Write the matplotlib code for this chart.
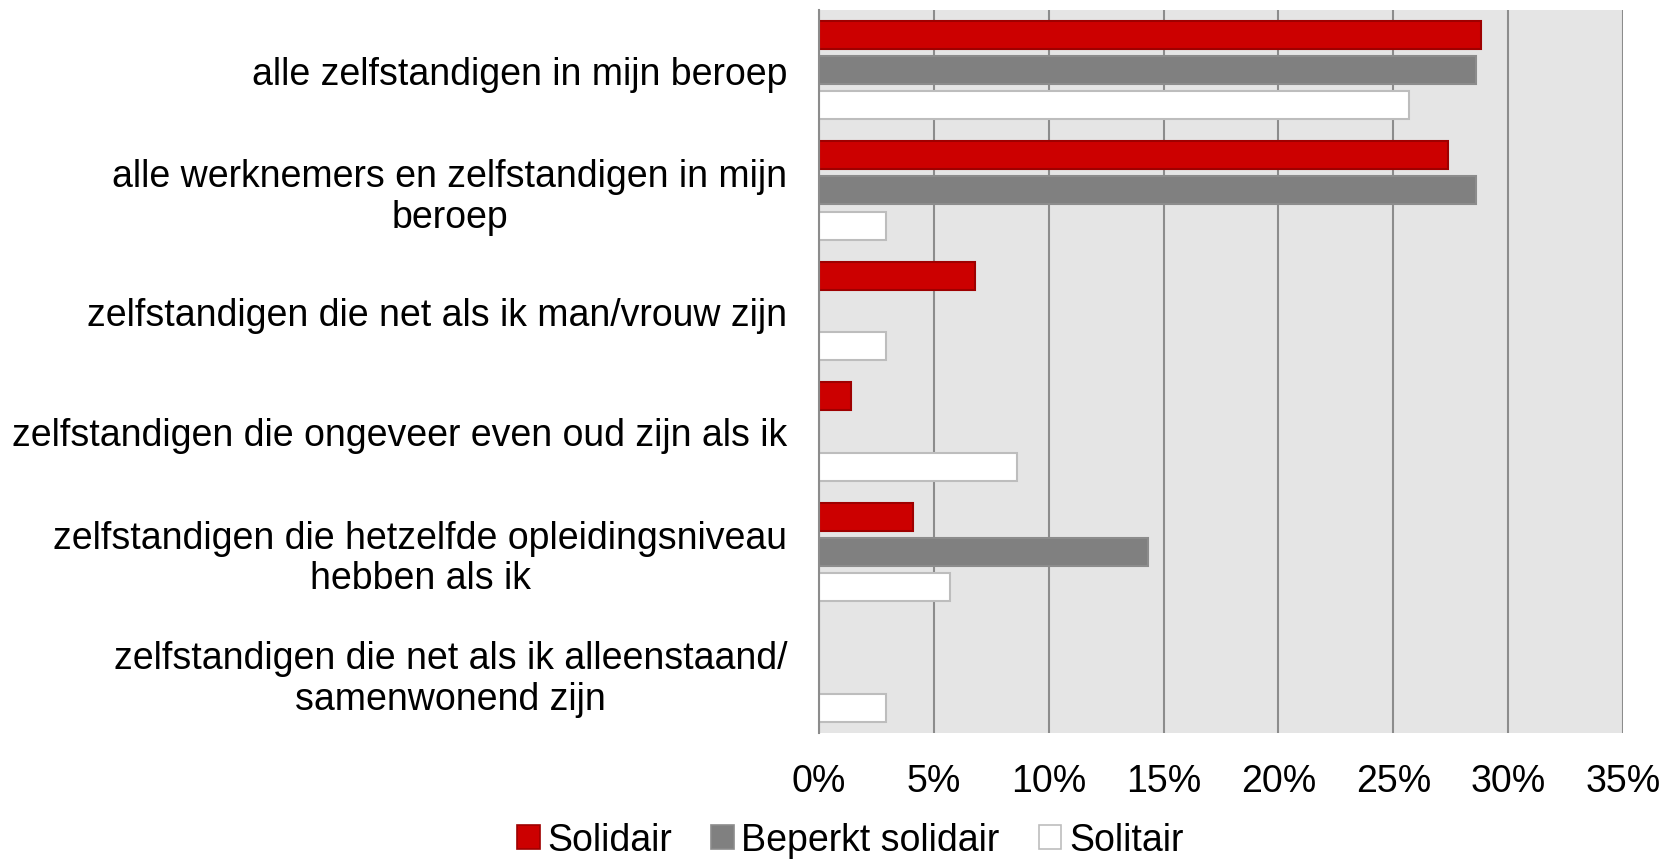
import matplotlib
matplotlib.use("Agg")
import matplotlib.pyplot as plt
import numpy as np
from matplotlib.ticker import PercentFormatter
from matplotlib.patches import Patch

plt.rcParams['font.family'] = ['Liberation Sans', 'DejaVu Sans']

categories = [
    "alle zelfstandigen in mijn beroep",
    "alle werknemers en zelfstandigen in mijn\nberoep",
    "zelfstandigen die net als ik man/vrouw zijn",
    "zelfstandigen die ongeveer even oud zijn als ik",
    "zelfstandigen die hetzelfde opleidingsniveau\nhebben als ik",
    "zelfstandigen die net als ik alleenstaand/\nsamenwonend zijn",
]
series_names = ["Solidair", "Beperkt solidair", "Solitair"]
solidair = [28.8, 27.4, 6.8, 1.4, 4.1, 0.0]
beperkt = [28.6, 28.6, 0.0, 0.0, 14.3, 0.0]
solitair = [25.7, 2.9, 2.9, 8.6, 5.7, 2.9]
x_ticks = [0, 5, 10, 15, 20, 25, 30, 35]

fills = ["#CC0000", "#808080", "#FFFFFF"]
edges = ["#9E0000", "#8C8C8C", "#BDBDBD"]

fig = plt.figure(figsize=(16.77, 8.62), dpi=100)
ax = fig.add_axes([0.4884, 0.149, 0.4794, 0.8386])
ax.set_facecolor("#E5E5E5")

y = np.arange(len(categories))
step = 0.293
h = 0.232
for i, (vals, fc, ec) in enumerate(zip([solidair, beperkt, solitair], fills, edges)):
    lw = [1.5 if v > 0 else 0 for v in vals]
    ax.barh(y + (i - 1) * step, vals, height=h, color=fc, edgecolor=ec,
            linewidth=lw, zorder=3, label=series_names[i])

ax.set_xlim(0, 35)
ax.set_ylim(len(categories) - 0.5, -0.5)
ax.set_xticks(x_ticks)
ax.xaxis.set_major_formatter(PercentFormatter(decimals=0))
ax.set_yticks(y)
ax.set_yticklabels(categories, ha='right', multialignment='center', linespacing=1.15)
ax.tick_params(axis='y', length=0, pad=23, labelsize=27)
ax.tick_params(axis='x', length=0, pad=22, labelsize=27)
ax.grid(axis='x', color="#8C8C8C", linewidth=1.5, zorder=1)
ax.set_axisbelow(True)
for s in ["top", "right", "bottom"]:
    ax.spines[s].set_visible(False)
ax.spines["left"].set_color("#8C8C8C")
ax.spines["left"].set_linewidth(1.5)
ax.spines["left"].set_zorder(4)

handles = [Patch(facecolor=fc, edgecolor=ec, linewidth=1.2) for fc, ec in zip(fills, edges)]
fig.legend(handles, series_names, loc='center', bbox_to_anchor=(0.507, 0.024),
           ncol=3, frameon=False, fontsize=27, handlelength=0.6, handleheight=0.6,
           handletextpad=0.2, columnspacing=1.05, borderpad=0)

fig.savefig("out.png", dpi=100)
